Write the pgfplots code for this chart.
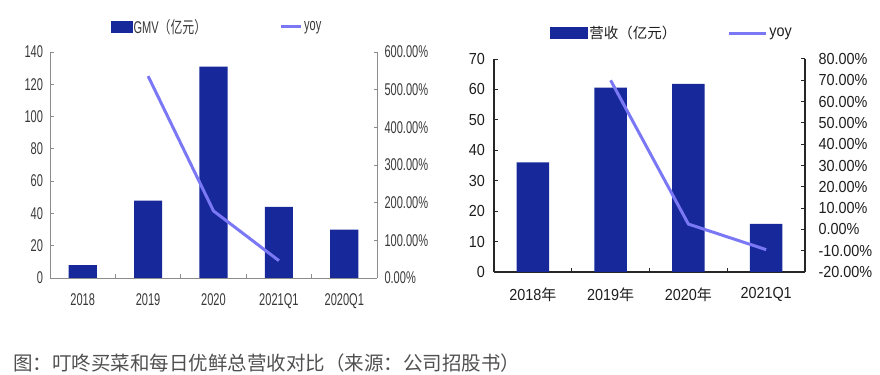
\documentclass[border=0pt]{standalone}
\usepackage{pgfplots}
\pgfplotsset{compat=1.18}
\usepackage{fontspec}
\setmainfont{Liberation Sans}
\newfontfamily\lnum[FakeStretch=0.65]{Liberation Sans}
\newfontfamily\lcjk[FakeStretch=0.72]{Noto Sans CJK SC}
\newfontfamily\rnum[FakeStretch=0.9]{Liberation Sans}
\newfontfamily\cjk{Noto Sans CJK SC}
\definecolor{barCol}{HTML}{17289A}
\definecolor{lineCol}{HTML}{7B78F6}
\definecolor{lAxis}{HTML}{8C8C8C}
\definecolor{lText}{HTML}{383838}
\definecolor{rAxis}{HTML}{262626}
\definecolor{rText}{HTML}{1E1E1E}
\definecolor{capCol}{HTML}{505050}
\begin{document}
\begin{tikzpicture}
\useasboundingbox (0,0) rectangle (880bp,375bp);
% ---------------- left chart ----------------
\pgfplotsset{
  leftbase/.style={
    at={(50bp,97bp)}, anchor=south west, scale only axis,
    width=327bp, height=226bp, xmin=-0.5, xmax=4.5,
    axis line style={draw=lAxis, line width=0.9bp},
    every tick/.style={draw=lAxis, line width=0.8bp},
    major tick length=3.5bp, minor tick length=3.5bp,
    tick align=inside,
    /pgf/number format/assume math mode=true,
    tick label style={font=\lnum\fontsize{17bp}{17bp}\selectfont, text=lText},
  }
}
\begin{axis}[leftbase,
  ymin=0, ymax=140,
  axis y line*=left, axis x line*=bottom,
  ytick={0,20,...,140},
  xtick={0,1,2,3,4}, xticklabels={2018,2019,2020,2021Q1,2020Q1},
  major x tick style={draw=none},
  minor xtick={0.5,1.5,2.5,3.5},
  xticklabel style={yshift=-12bp},
  yticklabel style={xshift=-3.5bp},
]
\addplot[ybar, fill=barCol, draw=none, bar width=0.43] coordinates {(0,8) (1,48) (2,131) (3,44) (4,30)};
\end{axis}
\begin{axis}[leftbase,
  ymin=0, ymax=600,
  axis y line*=right, axis x line=none,
  ytick={0,100,...,600},
  yticklabels={0.00\%,100.00\%,200.00\%,300.00\%,400.00\%,500.00\%,600.00\%},
  yticklabel style={xshift=4bp},
  legend columns=2,
  legend style={draw=none, fill=none, at={(0.51,1.112)}, anchor=center,
    font=\lnum\fontsize{17bp}{17bp}\selectfont, text=lText,
    nodes={inner sep=1.5bp},
    /tikz/every even column/.append style={column sep=72bp}},
]
\addlegendimage{legend image code/.code={\fill[barCol] (0bp,-5.5bp) rectangle (21bp,5.5bp);}}
\addlegendentry{GMV{\lcjk\fontsize{16.5bp}{16.5bp}\selectfont （亿元）}}
\addplot[lineCol, line width=3bp, legend image code/.code={\draw[lineCol, line width=3bp] (0bp,0bp) -- (20bp,0bp);}] coordinates {(1,536) (2,178) (3,46)};
\addlegendentry{yoy}
\end{axis}
% ---------------- right chart ----------------
\pgfplotsset{
  rightbase/.style={
    at={(494bp,103bp)}, anchor=south west, scale only axis,
    width=311bp, height=213bp, xmin=-0.5, xmax=3.5,
    axis line style={draw=rAxis, line width=1.1bp},
    every tick/.style={draw=rAxis, line width=1bp},
    major tick length=4bp, minor tick length=4bp,
    tick align=inside,
    /pgf/number format/assume math mode=true,
    tick label style={font=\rnum\fontsize{16bp}{16bp}\selectfont, text=rText},
  }
}
\begin{axis}[rightbase,
  ymin=0, ymax=70,
  axis y line*=left, axis x line*=bottom,
  ytick={0,10,...,70},
  xtick={0,1,2,3},
  xticklabels={2018{\cjk\fontsize{15bp}{15bp}\selectfont 年},2019{\cjk\fontsize{15bp}{15bp}\selectfont 年},2020{\cjk\fontsize{15bp}{15bp}\selectfont 年},2021Q1},
  major x tick style={draw=none},
  minor xtick={0.5,1.5,2.5},
  xticklabel style={yshift=-12bp},
  yticklabel style={xshift=-5.5bp},
]
\addplot[ybar, fill=barCol, draw=none, bar width=0.42] coordinates {(0,36) (1,60.6) (2,61.8) (3,15.8)};
\end{axis}
\begin{axis}[rightbase,
  ymin=-20, ymax=80,
  axis y line*=right, axis x line=none,
  ytick={-20,-10,...,80},
  yticklabels={-20.00\%,-10.00\%,0.00\%,10.00\%,20.00\%,30.00\%,40.00\%,50.00\%,60.00\%,70.00\%,80.00\%},
  yticklabel style={xshift=10bp},
  legend columns=2,
  legend style={draw=none, fill=none, at={(0.572,1.122)}, anchor=center,
    font=\rnum\fontsize{16bp}{16bp}\selectfont, text=rText,
    nodes={inner sep=1.5bp},
    /tikz/every even column/.append style={column sep=50bp}},
]
\addlegendimage{legend image code/.code={\fill[barCol] (0bp,-5.5bp) rectangle (37bp,5.5bp);}}
\addlegendentry{{\cjk\fontsize{14.5bp}{14.5bp}\selectfont 营收（亿元）}}
\addplot[lineCol, line width=3bp, legend image code/.code={\draw[lineCol, line width=3bp] (0bp,0bp) -- (37bp,0bp);}] coordinates {(1,70) (2,2.5) (3,-9.5)};
\addlegendentry{yoy}
\end{axis}
% ---------------- caption ----------------
\node[anchor=west, inner sep=0pt, text=capCol, font=\cjk\fontsize{19.5bp}{20bp}\selectfont] at (13bp,12bp) {图：叮咚买菜和每日优鲜总营收对比（来源：公司招股书）};
\end{tikzpicture}
\end{document}
